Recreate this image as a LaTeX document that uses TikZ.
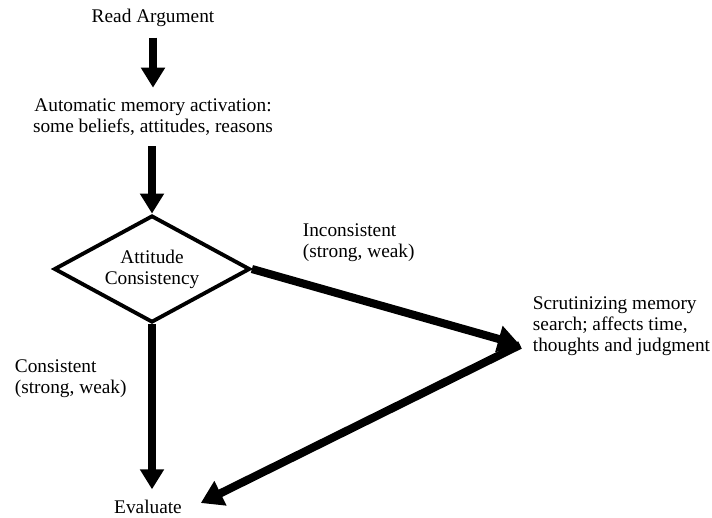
\documentclass[tikz,border=0pt]{standalone}
\usepackage{fontspec}
\setmainfont{Liberation Serif}
\usetikzlibrary{arrows.meta,shapes.geometric}

\tikzset{
  txt/.style={inner sep=6pt,font=\fontsize{11}{12}\selectfont,align=center},
  flow/.style={line width=4pt,-{Triangle[width=0.46cm,length=0.4cm]}},
  slant/.style={line width=4.6pt,-{Triangle[width=0.52cm,length=0.44cm]}},
  decision/.style={diamond,draw,line width=2.2pt,aspect=1.83,inner sep=0pt,
    minimum width=3.92cm,minimum height=2.14cm,align=center,
    font=\fontsize{11}{12}\selectfont}
}

\begin{document}
\begin{tikzpicture}[x=0.02cm,y=-0.02cm]
\useasboundingbox (0,0) rectangle (712,517);
\node[txt] (read) at (153,18) {Read Argument};
\node[txt] (auto) at (153,117) {Automatic memory activation:\\some beliefs, attitudes, reasons};
\node[decision] (dec) at (152,269) {Attitude\\Consistency};
\node[txt] (eval) at (148,507) {Evaluate};
\node[txt,anchor=west,align=left] (scrut) at (522,326) {Scrutinizing memory\\search; affects time,\\thoughts and judgment};
\node[txt,anchor=west,align=left] (cons) at (4,379) {Consistent\\(strong, weak)};
\node[txt,anchor=west,align=left] (incons) at (292,243) {Inconsistent\\(strong, weak)};
\coordinate (meet) at (520,345);
\draw[flow] (read.south) -- (auto.north -| read.south);
\draw[flow] (auto.south -| dec.north) -- (dec.north);
\draw[flow] (dec.south) -- (dec.south |- eval.north);
\draw[slant] (dec.east) -- (meet);
\draw[slant,shorten >=0.18cm] (meet) -- (eval.east);
\end{tikzpicture}
\end{document}
